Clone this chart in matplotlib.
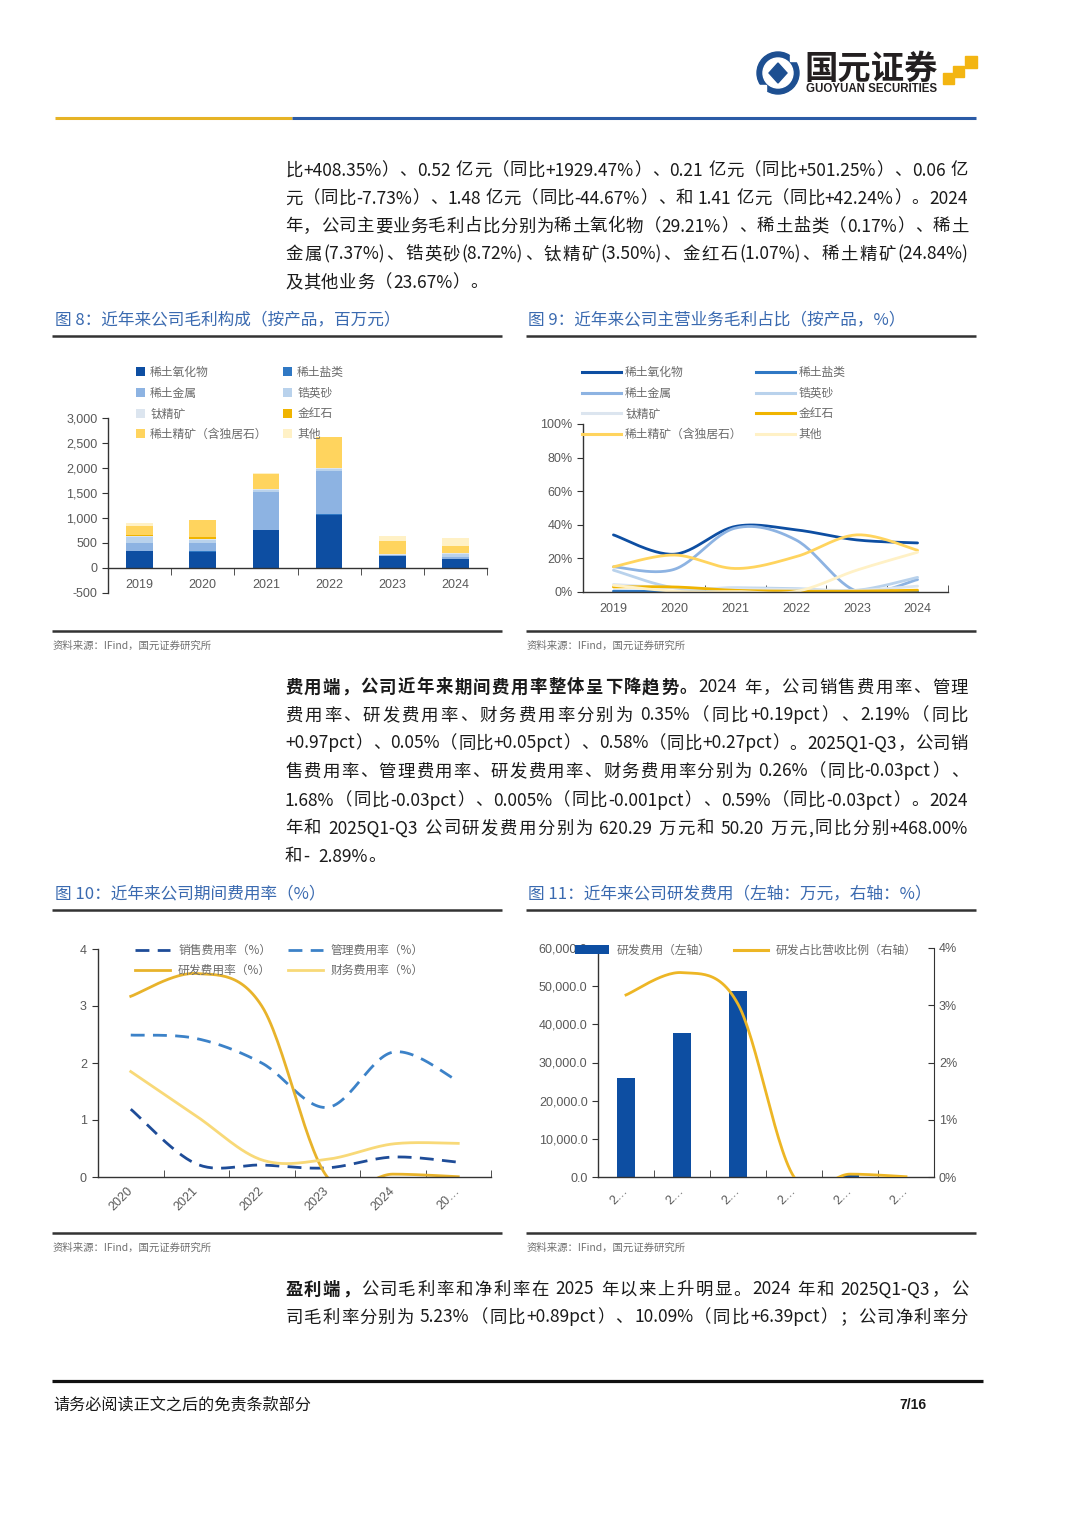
import numpy as np
import matplotlib
matplotlib.use("Agg")
import matplotlib.pyplot as plt
from matplotlib.patches import Rectangle, Circle, Polygon, Patch
from matplotlib.lines import Line2D
from matplotlib.font_manager import FontProperties

plt.rcParams['font.family'] = ['Liberation Sans', 'Noto Sans CJK SC', 'DejaVu Sans']
BODY = ['Noto Sans CJK SC', 'DejaVu Sans']
W, H = 1080, 1527

### Data: figure 8 gross profit by product (million yuan)
years8 = ['2019', '2020', '2021', '2022', '2023', '2024']
gp_oxide = [340, 320, 760, 1065, 245, 175]
gp_salt = [8, 10, 5, 10, 2, 1]
gp_metal = [150, 170, 750, 860, 10, 44]
gp_zircon = [120, 55, 40, 45, 10, 52]
gp_ti = [30, 25, 25, 10, 5, 21]
gp_rutile = [20, 40, 5, 5, 3, 6]
gp_conc = [180, 330, 300, 615, 255, 149]
gp_other = [60, 10, 5, 5, 110, 142]

### Data: figure 9 share of gross profit (%)
sh_oxide = [34, 22.5, 39, 37, 31, 29.21]
sh_salt = [0.5, 0.3, 0.2, 0.2, 0.1, 0.17]
sh_metal = [15, 13.5, 38, 31, 0.5, 7.37]
sh_zircon = [13, 2.5, 2.5, 2, 1, 8.72]
sh_ti = [4.5, 2.5, 2, 1.5, 1, 3.5]
sh_rutile = [3, 3, 1, 0.5, 0.5, 1.07]
sh_conc = [15, 22, 14, 21, 34, 24.84]
sh_other = [4, 0.5, 0.3, 0.3, 13, 23.67]

product_names = ['稀土氧化物', '稀土盐类', '稀土金属', '锆英砂', '钛精矿', '金红石',
                 '稀土精矿（含独居石）', '其他']
product_colors = ['#0D4EA2', '#2F78C4', '#8DB3E2', '#B9D2EC', '#DCE5EF', '#F0B400',
                  '#FFD45E', '#FFF1C6']

### Data: figure 10 expense ratios (%)
years10 = ['2020', '2021', '2022', '2023', '2024', '20…']
sell_rate = [1.19, 0.23, 0.21, 0.16, 0.35, 0.26]
admin_rate = [2.49, 2.43, 2.0, 1.22, 2.19, 1.68]
rd_rate = [3.17, 3.57, 3.0, 0.0, 0.05, 0.005]
fin_rate = [1.85, 1.07, 0.3, 0.31, 0.58, 0.59]

### Data: figure 11 R&D expense (10k yuan) and ratio (%)
years11 = ['2…', '2…', '2…', '2…', '2…', '2…']
rd_expense = [25900, 37850, 48750, 109.2, 620.29, 50.20]
rd_ratio = [3.18, 3.57, 3.02, 0.0, 0.05, 0.005]


def smooth(y, n=30):
    # Excel-like smoothed line (bezier through every point)
    y = np.asarray(y, float)
    P = np.column_stack([np.arange(len(y), dtype=float), y])
    t = np.linspace(0, 1, n)[1:, None]
    out = [P[:1]]
    for i in range(len(P) - 1):
        p0, p1, p2, p3 = P[max(i - 1, 0)], P[i], P[i + 1], P[min(i + 2, len(P) - 1)]
        c1 = p1 + (p2 - p0) / 6
        c2 = p2 - (p3 - p1) / 6
        out.append((1 - t)**3 * p1 + 3 * (1 - t)**2 * t * c1 + 3 * (1 - t) * t**2 * c2 + t**3 * p2)
    S = np.vstack(out)
    return S[:, 0], S[:, 1]


def rect(l, t, r, b):
    return [l / W, 1 - b / H, (r - l) / W, (b - t) / H]


fig = plt.figure(figsize=(W / 100, H / 100), dpi=100, facecolor='white')
page = fig.add_axes([0, 0, 1, 1])
page.set_xlim(0, W)
page.set_ylim(H, 0)
page.axis('off')
renderer = fig.canvas.get_renderer()

TXT = '#1a1a1a'
GRAY = '#595959'
LEGC = '#6b6b6b'
TITLE = '#3A6AB0'
LEGFONT = FontProperties(family=BODY, size=8.5)

### Header
page.add_patch(Circle((778, 73), 21, color='#1D4F91'))
page.add_patch(Circle((778, 73), 15, color='white'))
page.add_patch(Polygon([(778, 63), (787, 73), (778, 83), (769, 73)], color='#1D4F91'))
page.add_patch(Rectangle((790, 55), 8, 6, color='white'))
page.add_patch(Rectangle((758, 85), 8, 6, color='white'))
page.text(804, 69, '国元证券', fontsize=24, fontweight='bold', family=BODY, color='#231F20',
          va='center', ha='left')
page.text(806, 89, 'GUOYUAN SECURITIES', fontsize=8.3, fontweight='bold', color='#231F20',
          va='center', ha='left')
for (x0, y0, s) in [(943, 73, 11), (953, 66, 11), (965, 56, 12)]:
    page.add_patch(Rectangle((x0, y0), s, s, color='#F3B512'))
page.plot([55, 292], [118, 118], color='#E6B325', lw=2.2, solid_capstyle='butt')
page.plot([292, 976], [118, 118], color='#2B5BA6', lw=2.2, solid_capstyle='butt')


### Justified body text
def tokens_of(segments):
    toks = []
    for text, bold in segments:
        buf = ''
        for ch in text:
            if ch.isascii() and ch != ' ':
                buf += ch
            else:
                if buf:
                    toks.append((buf, bold))
                    buf = ''
                toks.append((ch, bold))
        if buf:
            toks.append((buf, bold))
    return toks


def tok_width(t, fs, bold):
    fp = FontProperties(family=BODY, size=fs, weight='bold' if bold else 'normal')
    return renderer.get_text_width_height_descent(t, fp, ismath=False)[0]


def draw_para(lines, ys, x0, x1, fs, justify_last=False):
    for i, (segs, y) in enumerate(zip(lines, ys)):
        toks = tokens_of(segs)
        widths = [tok_width(t, fs, b) for t, b in toks]
        justify = i < len(lines) - 1 or justify_last
        gap = (x1 - x0 - sum(widths)) / (len(toks) - 1) if justify else 0.6
        x = x0
        for (t, b), w in zip(toks, widths):
            page.text(x, y + 6.5, t, fontsize=fs, family=BODY, color=TXT,
                      fontweight='bold' if b else 'normal', va='baseline', ha='left')
            x += w + gap


para1 = [
    [("比+408.35%）、0.52 亿元（同比+1929.47%）、0.21 亿元（同比+501.25%）、0.06 亿", False)],
    [("元（同比-7.73%）、1.48 亿元（同比-44.67%）、和 1.41 亿元（同比+42.24%）。2024", False)],
    [("年，公司主要业务毛利占比分别为稀土氧化物（29.21%）、稀土盐类（0.17%）、稀土", False)],
    [("金属(7.37%)、锆英砂(8.72%)、钛精矿(3.50%)、金红石(1.07%)、稀土精矿(24.84%)", False)],
    [("及其他业务（23.67%）。", False)],
]
para2 = [
    [("费用端，公司近年来期间费用率整体呈下降趋势。", True), ("2024 年，公司销售费用率、管理", False)],
    [("费用率、研发费用率、财务费用率分别为 0.35%（同比+0.19pct）、2.19%（同比", False)],
    [("+0.97pct）、0.05%（同比+0.05pct）、0.58%（同比+0.27pct）。2025Q1-Q3，公司销", False)],
    [("售费用率、管理费用率、研发费用率、财务费用率分别为 0.26%（同比-0.03pct）、", False)],
    [("1.68%（同比-0.03pct）、0.005%（同比-0.001pct）、0.59%（同比-0.03pct）。2024", False)],
    [("年和 2025Q1-Q3 公司研发费用分别为 620.29 万元和 50.20 万元,同比分别+468.00%", False)],
    [("和-  2.89%。", False)],
]
para3 = [
    [("盈利端，", True), ("公司毛利率和净利率在 2025 年以来上升明显。2024 年和 2025Q1-Q3，公", False)],
    [("司毛利率分别为 5.23%（同比+0.89pct）、10.09%（同比+6.39pct）；公司净利率分", False)],
]

# pick a body size so the widest justified line just fits
fs_body = 13.0
widest = 0
for para in (para1[:-1], para2[:-1], para3):
    for segs in para:
        widest = max(widest, sum(tok_width(t, fs_body, b) for t, b in tokens_of(segs)))
fs_body = min(fs_body, fs_body * 676 / widest)

draw_para(para1, [169, 197, 225, 253, 281], 285, 968, fs_body)
draw_para(para2, [686, 714, 742, 770, 799, 827, 855], 285, 968, fs_body)
draw_para(para3, [1288, 1316], 285, 968, fs_body, justify_last=True)

### Figure titles, rules and sources
titles = [(55, 320, '图 8：近年来公司毛利构成（按产品，百万元）'),
          (528, 320, '图 9：近年来公司主营业务毛利占比（按产品，%）'),
          (55, 894, '图 10：近年来公司期间费用率（%）'),
          (528, 894, '图 11：近年来公司研发费用（左轴：万元，右轴：%）')]
for x, y, s in titles:
    page.text(x, y, s, fontsize=12, family=BODY, color=TITLE, va='center', ha='left')
for y in (336, 631, 910, 1233):
    page.plot([52, 502], [y, y], color='#333333', lw=1.8, solid_capstyle='butt')
    page.plot([526, 976], [y, y], color='#333333', lw=1.8, solid_capstyle='butt')
for x, y in [(53, 646), (527, 646), (53, 1248), (527, 1248)]:
    page.text(x, y, '资料来源：IFind，国元证券研究所', fontsize=7.5, family=BODY, color='#707070',
              va='center', ha='left')

### Footer
page.plot([52, 983], [1381, 1381], color='#111111', lw=2.3, solid_capstyle='butt')
page.text(53, 1405, '请务必阅读正文之后的免责条款部分', fontsize=11.6, family=BODY, color=TXT,
          va='center', ha='left')
page.text(927, 1405, '7/16', fontsize=10, fontweight='bold', color=TXT, va='center', ha='right')


def style_axis(ax, tick_dir='out'):
    for side in ('top', 'right'):
        ax.spines[side].set_visible(False)
    for side in ('left', 'bottom'):
        ax.spines[side].set_color('#333333')
        ax.spines[side].set_linewidth(1.0)
    ax.set_facecolor('none')
    ax.tick_params(axis='y', labelsize=9, labelcolor=GRAY, color='#333333', length=4, direction='out')
    ax.tick_params(axis='x', which='major', length=0, labelsize=9, labelcolor=GRAY)
    ax.tick_params(axis='x', which='minor', length=5, color='#333333', direction=tick_dir)


### Figure 8: stacked bars
gp_series = [gp_oxide, gp_salt, gp_metal, gp_zircon, gp_ti, gp_rutile, gp_conc, gp_other]
ax8 = fig.add_axes(rect(108, 418, 487, 593))
x = np.arange(len(years8))
bottom = np.zeros(len(years8))
for vals, color in zip(gp_series, product_colors):
    ax8.bar(x, vals, width=0.42, bottom=bottom, color=color, zorder=2)
    bottom += np.array(vals)
ax8.set_xlim(-0.5, 5.5)
ax8.set_ylim(-500, 3000)
ax8.spines['bottom'].set_position(('data', 0))
ax8.set_yticks(np.arange(-500, 3001, 500))
ax8.set_yticklabels([f'{v:,.0f}' for v in np.arange(-500, 3001, 500)])
ax8.set_xticks(x)
ax8.set_xticklabels(years8)
ax8.set_xticks(np.arange(0.5, 6, 1), minor=True)
style_axis(ax8, 'out')
ax8.tick_params(axis='x', which='major', pad=8)
order = [0, 2, 4, 6, 1, 3, 5, 7]
h8 = [Patch(facecolor=product_colors[i]) for i in order]
ax8.legend(h8, [product_names[i] for i in order], ncol=2, loc='upper left',
           bbox_to_anchor=(136 / W, 1 - 366 / H), bbox_transform=fig.transFigure,
           frameon=False, prop=LEGFONT, labelcolor=LEGC,
           handlelength=0.8, handleheight=0.8, handletextpad=0.4, columnspacing=1.3,
           labelspacing=0.65, borderpad=0, borderaxespad=0)

### Figure 9: smoothed share lines
sh_series = [sh_oxide, sh_salt, sh_metal, sh_zircon, sh_ti, sh_rutile, sh_conc, sh_other]
ax9 = fig.add_axes(rect(583, 424, 948, 592))
for vals, color in zip(sh_series, product_colors):
    xs, ys = smooth(vals)
    ax9.plot(xs, ys, color=color, lw=2.0, solid_capstyle='round')
ax9.set_xlim(-0.5, 5.5)
ax9.set_ylim(0, 100)
ax9.set_yticks(np.arange(0, 101, 20))
ax9.set_yticklabels([f'{v}%' for v in range(0, 101, 20)])
ax9.set_xticks(np.arange(len(years8)))
ax9.set_xticklabels(years8)
ax9.set_xticks(np.arange(0.5, 6, 1), minor=True)
style_axis(ax9, 'in')
ax9.tick_params(axis='x', which='major', pad=8)
h9 = [Line2D([], [], color=product_colors[i], lw=2.2) for i in order]
ax9.legend(h9, [product_names[i] for i in order], ncol=2, loc='upper left',
           bbox_to_anchor=(582 / W, 1 - 366 / H), bbox_transform=fig.transFigure,
           frameon=False, prop=LEGFONT, labelcolor=LEGC,
           handlelength=3.3, handletextpad=0.35, columnspacing=1.1,
           labelspacing=0.65, borderpad=0, borderaxespad=0)

### Figure 10: expense ratios
ax10 = fig.add_axes(rect(98, 949, 491, 1177))
rate_series = [(sell_rate, '#1E4C98', (5, 3)), (admin_rate, '#3C82C8', (5, 3)),
               (rd_rate, '#E8B32B', None), (fin_rate, '#F8D978', None)]
rate_names = ['销售费用率（%）', '管理费用率（%）', '研发费用率（%）', '财务费用率（%）']
h10 = []
for (vals, color, dash), name in zip(rate_series, rate_names):
    xs, ys = smooth(vals)
    kw = dict(dashes=dash) if dash else {}
    ax10.plot(xs, ys, color=color, lw=2.0, **kw)
    h10.append(Line2D([], [], color=color, lw=2.0, **kw))
ax10.set_xlim(-0.5, 5.5)
ax10.set_ylim(0, 4)
ax10.set_yticks(range(0, 5))
ax10.set_xticks(np.arange(len(years10)))
ax10.set_xticklabels(years10, rotation=45, ha='right', va='center', rotation_mode='anchor')
ax10.set_xticks(np.arange(0.5, 6, 1), minor=True)
style_axis(ax10, 'in')
ax10.tick_params(axis='x', which='major', pad=9)
ax10.tick_params(axis='y', pad=4)
leg_order = [0, 2, 1, 3]
ax10.legend([h10[i] for i in leg_order], [rate_names[i] for i in leg_order], ncol=2,
            loc='upper left', bbox_to_anchor=(135 / W, 1 - 944 / H), bbox_transform=fig.transFigure,
            frameon=False, prop=LEGFONT, labelcolor=LEGC,
            handlelength=3.0, handletextpad=0.65, columnspacing=1.4,
            labelspacing=0.6, borderpad=0, borderaxespad=0)

### Figure 11: R&D expense and ratio
ax11 = fig.add_axes(rect(598, 948, 934, 1177))
ax11.bar(np.arange(len(years11)), rd_expense, width=0.33, color='#0D4EA2', zorder=2)
ax11.set_xlim(-0.5, 5.5)
ax11.set_ylim(0, 60000)
ax11.set_yticks(np.arange(0, 60001, 10000))
ax11.set_yticklabels([f'{v:,.1f}' for v in np.arange(0, 60001, 10000)])
ax11.set_xticks(np.arange(len(years11)))
ax11.set_xticklabels(years11, rotation=45, ha='right', va='center', rotation_mode='anchor')
ax11.set_xticks(np.arange(0.5, 6, 1), minor=True)
style_axis(ax11, 'in')
ax11.tick_params(axis='x', which='major', pad=9)
ax11r = ax11.twinx()
xs, ys = smooth(rd_ratio)
ax11r.plot(xs, ys, color='#EDB625', lw=2.0)
ax11r.set_ylim(0, 4)
ax11r.set_yticks(range(0, 5))
ax11r.set_yticklabels([f'{v}%' for v in range(0, 5)])
for side in ('top', 'left'):
    ax11r.spines[side].set_visible(False)
ax11r.spines['right'].set_color('#333333')
ax11r.spines['bottom'].set_visible(False)
ax11r.tick_params(axis='y', labelsize=9, labelcolor=GRAY, color='#333333', length=4, direction='in')
h11 = [Patch(facecolor='#0D4EA2'), Line2D([], [], color='#EDB625', lw=2.2)]
ax11r.legend(h11, ['研发费用（左轴）', '研发占比营收比例（右轴）'], ncol=2, loc='upper left',
             bbox_to_anchor=(575 / W, 1 - 944 / H), bbox_transform=fig.transFigure,
             frameon=False, prop=LEGFONT, labelcolor=LEGC,
             handlelength=2.9, handleheight=0.8, handletextpad=0.6, columnspacing=2.0,
             borderpad=0, borderaxespad=0)

fig.savefig('out.png', dpi=100, facecolor='white')
